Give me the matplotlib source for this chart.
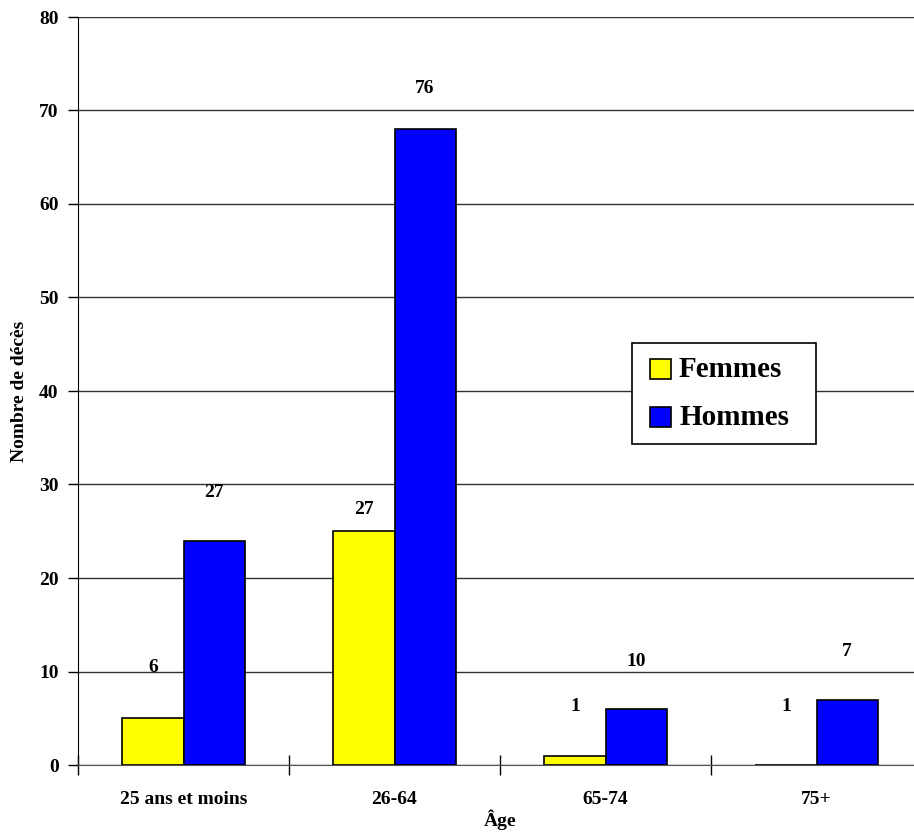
import matplotlib
matplotlib.use("Agg")
import matplotlib.pyplot as plt
import numpy as np
from matplotlib.patches import Rectangle

categories = ["25 ans et moins", "26-64", "65-74", "75+"]
femmes_bars = [5, 25, 1, 0]
hommes_bars = [24, 68, 6, 7]
femmes_labels = ["6", "27", "1", "1"]
hommes_labels = ["27", "76", "10", "7"]
y_ticks = [0, 10, 20, 30, 40, 50, 60, 70, 80]
series_names = ["Femmes", "Hommes"]
series_colors = ["#FFFF00", "#0000FF"]

# label offsets above bars (style, data units)
femmes_off = [5.4, 2.3, 5.3, 6.3]
hommes_off = [5.1, 4.4, 5.1, 5.1]

plt.rcParams['font.family'] = ['Liberation Serif', 'DejaVu Serif']
plt.rcParams['font.weight'] = 'bold'

W, H = 914, 838
fig = plt.figure(figsize=(W/100, H/100), dpi=100)
left, right, top, bottom = 78, 922, 17, 765
ax = fig.add_axes([left/W, 1-bottom/H, (right-left)/W, (bottom-top)/H])

FS = 14
x = np.arange(len(categories))
bw = 0.29
ax.bar(x - bw/2, femmes_bars, bw, color=series_colors[0], edgecolor='black', linewidth=1.2, zorder=3)
ax.bar(x + bw/2, hommes_bars, bw, color=series_colors[1], edgecolor='black', linewidth=1.2, zorder=3)

for i in range(len(categories)):
    ax.text(x[i] - bw/2, femmes_bars[i] + femmes_off[i], femmes_labels[i], ha='center', va='center',
            fontsize=FS, fontweight='bold')
    ax.text(x[i] + bw/2, hommes_bars[i] + hommes_off[i], hommes_labels[i], ha='center', va='center',
            fontsize=FS, fontweight='bold')

ax.set_xlim(-0.5, len(categories) - 0.5)
ax.set_ylim(0, 80)
ax.set_yticks(y_ticks)
ax.set_yticklabels([str(v) for v in y_ticks], fontsize=FS, fontweight='bold')
ax.yaxis.grid(True, color='#333333', linewidth=1, zorder=0)
ax.set_axisbelow(True)

ax.set_xticks(x)
ax.set_xticklabels(categories, fontsize=FS, fontweight='bold')
ax.tick_params(axis='x', length=0, pad=19)
ax.set_xticks(np.arange(-0.5, len(categories), 1), minor=True)
ax.tick_params(axis='x', which='minor', direction='inout', length=14, width=1, color='black')
ax.tick_params(axis='y', direction='out', length=7, width=1, pad=7)

for s in ['top', 'right']:
    ax.spines[s].set_visible(False)
ax.spines['left'].set_color('black')
ax.spines['bottom'].set_color('#555555')

fig.text(20/W, 1-391/H, "Nombre de décès", rotation=90, ha='center', va='center',
         fontsize=FS, fontweight='bold')
fig.text(500/W, 1-820/H, "Âge", ha='center', va='center', fontsize=FS, fontweight='bold')

# legend box drawn in figure pixels
def fx(px):
    return px / W
def fy(py):
    return 1 - py / H

fig.patches.append(Rectangle((fx(632), fy(444)), (816-632)/W, (444-343)/H,
                             transform=fig.transFigure, facecolor='white', edgecolor='black',
                             linewidth=1.2, zorder=10))
row_y = [369, 417]
for name, col, yy in zip(series_names, series_colors, row_y):
    fig.patches.append(Rectangle((fx(650), fy(yy + 10)), 21/W, 20/H, transform=fig.transFigure,
                                 facecolor=col, edgecolor='black', linewidth=1.2, zorder=11))
    fig.text(fx(679), fy(yy), name, ha='left', va='center', fontsize=21, fontweight='bold', zorder=12)

fig.savefig("out.png", dpi=100)
